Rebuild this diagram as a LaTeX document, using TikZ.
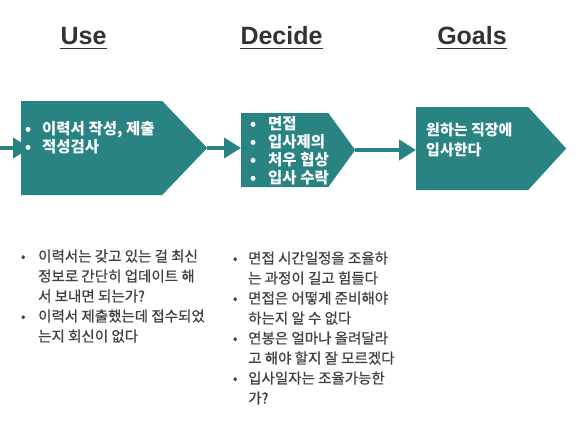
\documentclass[tikz,border=0pt]{standalone}
\usepackage{fontspec}
\setmainfont{Noto Sans CJK KR}
\newfontfamily\headfont{Liberation Sans}
\newfontfamily\notefont{Noto Sans CJK KR}[FakeBold=0.7]
\usepackage{xcolor}
\usepackage{tikz}
\usetikzlibrary{arrows.meta, positioning, shapes.symbols, backgrounds}

\definecolor{stageteal}{RGB}{42,131,131}
\definecolor{notegray}{RGB}{64,64,64}
\definecolor{headgray}{RGB}{51,51,51}
\newcommand{\bul}[1]{\makebox[#1][l]{\makebox[0pt]{•}}}

\begin{document}
\begin{tikzpicture}[
            x=1pt, y=-1pt,                     % 1pt = 1px of the reference
            stage/.style={
                signal,
                signal to=east,
                fill=stageteal,
                draw=none,
                inner sep=0pt
            },
            boxtext/.style={
                anchor=base west,
                inner sep=0pt,
                text=white,
                font=\fontsize{15.5}{16.5}\selectfont\bfseries
            },
            notetext/.style={
                anchor=base west,
                inner sep=0pt,
                text=notegray,
                font=\notefont\fontsize{14.5}{20}\selectfont
            },
            heading/.style={
                anchor=base,
                inner sep=0pt,
                text=headgray,
                font=\headfont\fontsize{25}{30}\selectfont\bfseries
            },
            line/.style={
                draw=stageteal,
                line width=4pt,
                -{Triangle[length=17pt, width=20pt]}
            }
        ]
            \useasboundingbox (0,0) rectangle (582,434);

            % --- TITLES ---
            \node [heading] (useHead) at (83.5,44) {Use};
            \node [heading] (decideHead) at (281.5,44) {Decide};
            \node [heading] (goalsHead) at (472,44) {Goals};
            \draw [headgray, line width=1.5pt] ([yshift=-4.5pt]useHead.base west) -- ([yshift=-4.5pt]useHead.base east);
            \draw [headgray, line width=1.5pt] ([yshift=-4.5pt]decideHead.base west) -- ([yshift=-4.5pt]decideHead.base east);
            \draw [headgray, line width=1.5pt] ([yshift=-4.5pt]goalsHead.base west) -- ([yshift=-4.5pt]goalsHead.base east);

            % --- STAGES ---
            \node [stage, anchor=west, minimum width=186pt, minimum height=94pt, signal pointer angle=92.5] (use) at (21,148) {};
            \node [stage, anchor=west, minimum width=114pt, minimum height=74pt, signal pointer angle=108] (decide) at (241,150) {};
            \node [stage, anchor=west, minimum width=150pt, minimum height=83pt, signal pointer angle=95] (goals) at (416,148.5) {};

            \node [boxtext] (useList) at (28,134) {\begin{tabular}[t]{@{}l@{}l@{}}
                \bul{14pt} & 이력서 작성, 제출\\
                \bul{14pt} & 적성검사
            \end{tabular}};

            \node [boxtext, font=\fontsize{15.5}{17.3}\selectfont\bfseries] (decideList) at (253,129) {\begin{tabular}[t]{@{}l@{}l@{}}
                \bul{15pt} & 면접\\
                \bul{15pt} & 입사제의\\
                \bul{15pt} & 처우 협상\\
                \bul{15pt} & 입사 수락
            \end{tabular}};

            \node [boxtext, font=\fontsize{15}{20}\selectfont\bfseries] (goalsText) at (426,135.5) {\begin{tabular}[t]{@{}l@{}}
                원하는 직장에\\
                입사한다
            \end{tabular}};

            % --- NOTES ---
            \node [notetext] (useNotes) at (23,261.5) {\begin{tabular}[t]{@{}l@{}l@{}}
                \bul{15pt} & 이력서는 갖고 있는 걸 최신\\
                & 정보로 간단히 업데이트 해\\
                & 서 보내면 되는가?\\
                \bul{15pt} & 이력서 제출했는데 접수되었\\
                & 는지 회신이 없다
            \end{tabular}};

            \node [notetext] (decideNotes) at (235,263.5) {\begin{tabular}[t]{@{}l@{}l@{}}
                \bul{13pt} & 면접 시간일정을 조율하\\
                & 는 과정이 길고 힘들다\\
                \bul{13pt} & 면접은 어떻게 준비해야\\
                & 하는지 알 수 없다\\
                \bul{13pt} & 연봉은 얼마나 올려달라\\
                & 고 해야 할지 잘 모르겠다\\
                \bul{13pt} & 입사일자는 조율가능한\\
                & 가?
            \end{tabular}};

            % --- LINKS ---
            \coordinate (entry) at (0,148);
            \begin{pgfonlayer}{background}
                \path [line, shorten >=-9pt] (entry) -- (use.west);
            \end{pgfonlayer}
            \path [line] (use.east) -- (use.east -| decide.west);
            \path [line] (decide.east) -- (decide.east -| goals.west);
        \end{tikzpicture}
\end{document}
